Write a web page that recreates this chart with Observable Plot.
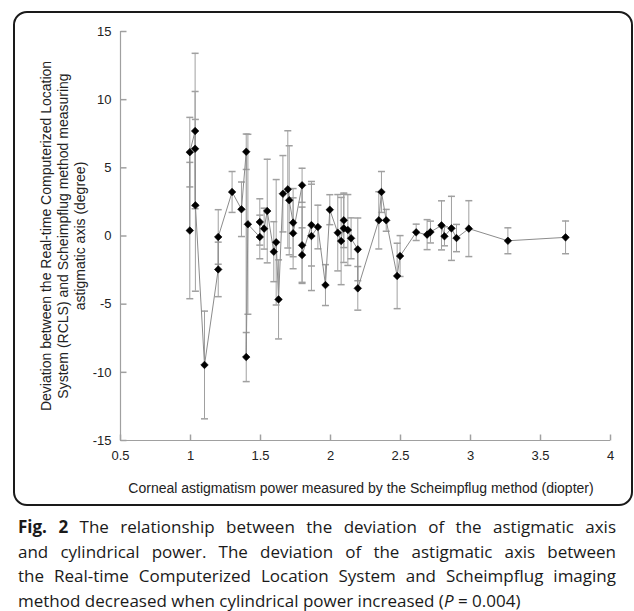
<!DOCTYPE html>
<html>
<head>
<meta charset="utf-8">
<script src="https://cdn.jsdelivr.net/npm/d3@7"></script>
<script src="https://cdn.jsdelivr.net/npm/@observablehq/plot@0.6"></script>
<style>
  html, body { margin: 0; padding: 0; background: #fff; }
  #page { position: relative; width: 634px; height: 611px; overflow: hidden; }
  #box { position: absolute; left: 13px; top: 11px; width: 620px; height: 495px; box-sizing: border-box;
         border: 2px solid #1a1a1a; border-radius: 14px; }
  #chart { position: absolute; left: 0; top: 0; }
  .ytitle { position: absolute; left: 63px; top: 236px; width: 420px; transform: translate(-50%, -50%) rotate(-90deg);
            font: 14px "Liberation Sans", Arial, sans-serif; line-height: 17px; text-align: center; color: #222; white-space: nowrap; }
  .xtitle { position: absolute; left: 116px; top: 480px; width: 490px; text-align: center;
            font: 14px "Liberation Sans", Arial, sans-serif; color: #222; white-space: nowrap; }
  #caption { position: absolute; left: 18px; top: 515px; width: 598px; font: 17px "Open Sans", sans-serif;
             line-height: 24.5px; color: #1a1a1a; }
  #caption .ln { text-align: justify; text-align-last: justify; white-space: nowrap; }
  #caption .ln.last { text-align-last: left; }
</style>
</head>
<body>
<div id="page">
  <div id="box"></div>
  <div id="chart"></div>
  <div class="ytitle">Deviation between the Real-time Computerized Location<br>System (RCLS) and Scheimpflug method measuring<br>astigmatic axis (degree)</div>
  <div class="xtitle">Corneal astigmatism power measured by the Scheimpflug method (diopter)</div>
  <div id="caption">
    <div class="ln"><b>Fig. 2</b> The relationship between the deviation of the astigmatic axis</div>
    <div class="ln">and cylindrical power. The deviation of the astigmatic axis between</div>
    <div class="ln">the Real-time Computerized Location System and Scheimpflug imaging</div>
    <div class="ln last">method decreased when cylindrical power increased (<i>P</i> = 0.004)</div>
  </div>
</div>
<script>
// Corneal astigmatism power (diopter), in line order
const power = [0.995, 0.995, 1.033, 1.033, 1.035, 1.10, 1.198, 1.198, 1.297, 1.364,
  1.398, 1.398, 1.41, 1.495, 1.495, 1.526, 1.548, 1.595, 1.612, 1.629,
  1.66, 1.695, 1.705, 1.733, 1.733, 1.797, 1.797, 1.797, 1.864, 1.864,
  1.91, 1.964, 1.995, 2.052, 2.076, 2.095, 2.095, 2.124, 2.147, 2.195,
  2.195, 2.345, 2.364, 2.398, 2.476, 2.497, 2.612, 2.69, 2.714, 2.793,
  2.814, 2.864, 2.9, 2.988, 3.267, 3.679];
// Mean deviation of astigmatic axis (degree)
const deviation = [0.4, 6.15, 7.7, 6.4, 2.25, -9.46, -2.45, -0.07, 3.23, 1.96,
  6.18, -8.88, 0.86, -0.07, 1.03, 0.54, 1.83, -1.15, -0.46, -4.65,
  3.1, 3.42, 2.62, 0.98, 0.2, 3.72, -0.68, -1.4, 0.8, 0.0,
  0.66, -3.6, 1.93, 0.24, -0.37, 1.15, 0.56, 0.44, -0.17, -0.98,
  -3.84, 1.15, 3.23, 1.15, -2.93, -1.47, 0.27, 0.1, 0.29, 0.78,
  -0.02, 0.56, -0.15, 0.54, -0.35, -0.1];
// Error (half-length of error bar, degree)
const errorBar = [5.0, 2.55, 5.7, 4.2, 6.3, 3.95, 2.0, 2.0, 1.5, 2.0,
  1.3, 1.8, 6.6, 1.6, 1.7, 1.5, 3.8, 2.2, 4.6, 2.9,
  2.8, 4.3, 4.0, 2.5, 2.6, 1.25, 2.8, 2.0, 3.0, 4.0,
  1.6, 1.5, 1.1, 2.8, 3.2, 2.0, 2.5, 2.6, 1.5, 2.3,
  1.6, 2.1, 1.5, 0.8, 2.4, 1.5, 0.6, 1.1, 0.8, 1.8,
  0.7, 2.35, 1.0, 2.05, 0.95, 1.2];
const xTicks = [0.5, 1, 1.5, 2, 2.5, 3, 3.5, 4];
const yTicks = [-15, -10, -5, 0, 5, 10, 15];

const data = power.map((x, i) => ({x, y: deviation[i], e: errorBar[i]}));

const capSymbol = {draw(ctx) { ctx.moveTo(-3.5, 0); ctx.lineTo(3.5, 0); }};
const xTickSymbol = {draw(ctx) { ctx.moveTo(0, 0); ctx.lineTo(0, -6); }};
const yTickSymbol = {draw(ctx) { ctx.moveTo(0, 0); ctx.lineTo(6, 0); }};

const gray = "#a0a0a0";
const chart = Plot.plot({
  width: 634,
  height: 470,
  marginLeft: 120,
  marginRight: 24,
  marginTop: 31,
  marginBottom: 30,
  style: {fontFamily: "'Liberation Sans', Arial, sans-serif", fontSize: "13px", color: "#222", background: "transparent"},
  x: {domain: [0.5, 4], ticks: xTicks, tickFormat: d => String(d)},
  y: {domain: [-15, 15], ticks: yTicks, tickFormat: d => String(d)},
  marks: [
    Plot.axisX({ticks: xTicks, tickFormat: d => String(d), tickSize: 0, tickPadding: 10, label: null}),
    Plot.axisY({ticks: yTicks, tickFormat: d => String(d), tickSize: 0, tickPadding: 9, label: null}),
    Plot.ruleY([-15], {stroke: gray, strokeWidth: 1.2}),
    Plot.ruleX([0.5], {stroke: gray, strokeWidth: 1.2}),
    Plot.dot(xTicks, {x: d => d, y: () => -15, symbol: xTickSymbol, r: 1, fill: "none", stroke: gray}),
    Plot.dot(yTicks, {x: () => 0.5, y: d => d, symbol: yTickSymbol, r: 1, fill: "none", stroke: gray}),
    Plot.ruleX(data, {x: "x", y1: d => d.y - d.e, y2: d => d.y + d.e, stroke: gray, strokeWidth: 1}),
    Plot.dot(data, {x: "x", y: d => d.y + d.e, symbol: capSymbol, r: 1, fill: "none", stroke: gray}),
    Plot.dot(data, {x: "x", y: d => d.y - d.e, symbol: capSymbol, r: 1, fill: "none", stroke: gray}),
    Plot.line(data, {x: "x", y: "y", stroke: "#8c8c8c", strokeWidth: 1}),
    Plot.dot(data, {x: "x", y: "y", symbol: "diamond2", r: 3.4, fill: "#000", stroke: "#000", strokeWidth: 0.6})
  ]
});
document.getElementById("chart").appendChild(chart);
</script>
</body>
</html>
